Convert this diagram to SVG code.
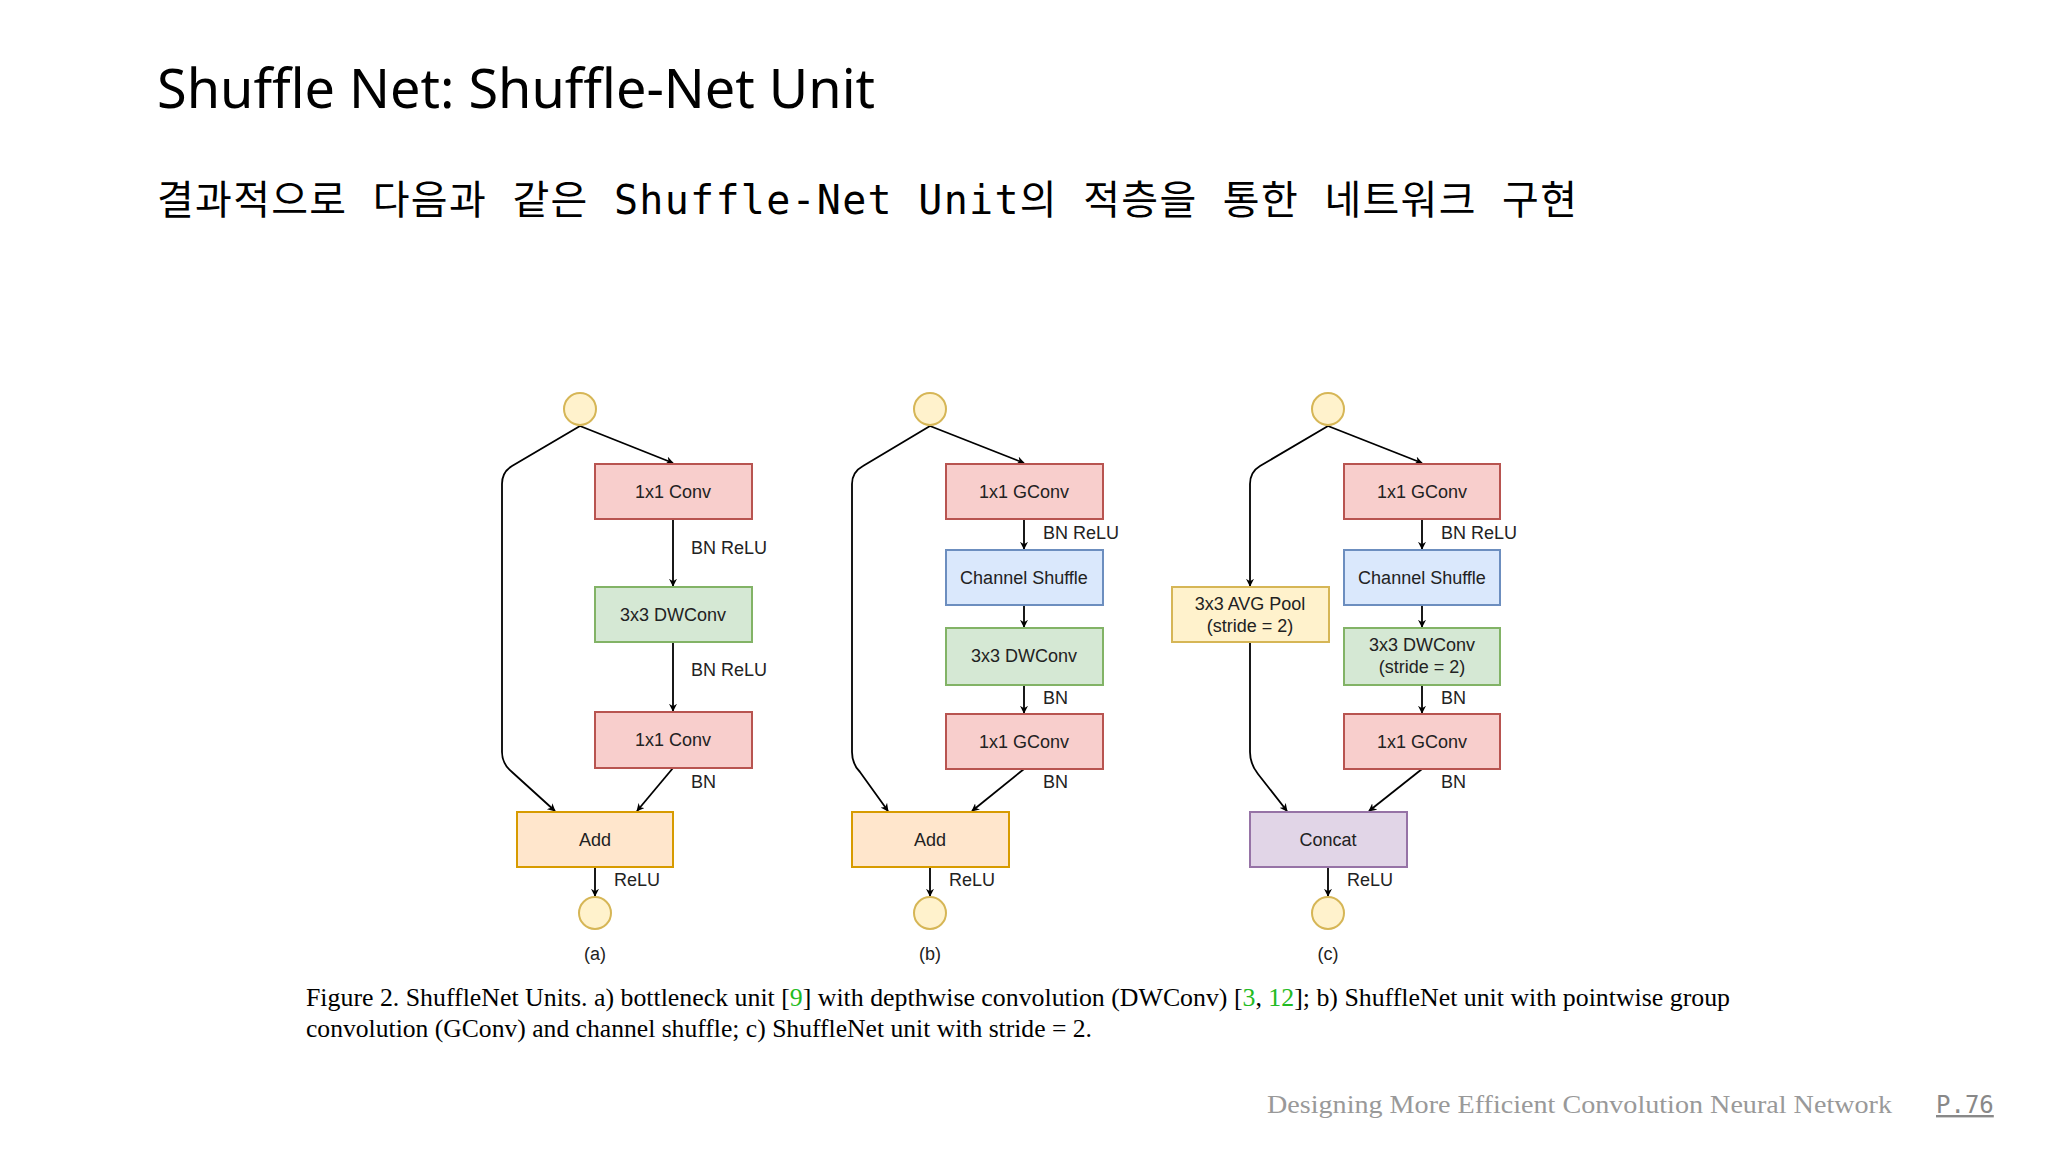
<svg xmlns="http://www.w3.org/2000/svg" width="2048" height="1152" viewBox="0 0 2048 1152">
<defs>
<marker id="ah" viewBox="0 0 10 10" refX="9" refY="5" markerWidth="8" markerHeight="8" markerUnits="userSpaceOnUse" orient="auto"><path d="M0,0 L10,5 L0,10 L3,5 z" fill="#000"/></marker>
<style>
.t{font-family:"Liberation Sans",Arial,sans-serif;font-size:18px;fill:#222;text-anchor:middle;dominant-baseline:central}
.l{font-family:"Liberation Sans",Arial,sans-serif;font-size:18px;fill:#222}
.red{fill:#f8cecc;stroke:#b85450;stroke-width:2}
.grn{fill:#d5e8d4;stroke:#82b366;stroke-width:2}
.blu{fill:#dae8fc;stroke:#6c8ebf;stroke-width:2}
.org{fill:#ffe6cc;stroke:#d79b00;stroke-width:2}
.yel{fill:#fff2cc;stroke:#d6b656;stroke-width:2}
.pur{fill:#e1d5e7;stroke:#9673a6;stroke-width:2}
.c{fill:#fff2cc;stroke:#d6b656;stroke-width:2}
.e{fill:none;stroke:#000;stroke-width:1.8;marker-end:url(#ah)}
</style>
</defs>
<rect width="2048" height="1152" fill="#fff"/>
<text x="157" y="108" font-family="'Noto Sans',sans-serif" font-size="54" fill="#000">Shuffle Net: Shuffle-Net Unit</text>
<text x="157" y="214" font-family="'DejaVu Sans Mono','Noto Sans CJK KR',monospace" font-size="40" fill="#000" textLength="1420">결과적으로 다음과 같은 Shuffle-Net Unit의 적층을 통한 네트워크 구현</text>

<g id="connectors">
<path class="e" d="M580,426 L673,463"/>
<path class="e" d="M580,426 L512,466 Q502,472 502,484 L502,752 Q502,764 512,772 L555,811"/>
<path class="e" d="M673,519 L673,586"/>
<path class="e" d="M673,642 L673,711"/>
<path class="e" d="M673,768 L637,811"/>
<path class="e" d="M595,867 L595,896"/>
<path class="e" d="M930,426 L1024,463"/>
<path class="e" d="M930,426 L863,466 Q852,472 852,484 L852,752 Q852,764 860,772 L888,811"/>
<path class="e" d="M1024,519 L1024,549"/>
<path class="e" d="M1024,605 L1024,627"/>
<path class="e" d="M1024,685 L1024,713"/>
<path class="e" d="M1024,769 L972,811"/>
<path class="e" d="M930,867 L930,896"/>
<path class="e" d="M1328,426 L1422,463"/>
<path class="e" d="M1328,426 L1260,466 Q1250,472 1250,484 L1250,586"/>
<path class="e" d="M1250,642 L1250,752 Q1250,764 1258,774 L1287,811"/>
<path class="e" d="M1422,519 L1422,549"/>
<path class="e" d="M1422,605 L1422,627"/>
<path class="e" d="M1422,685 L1422,713"/>
<path class="e" d="M1422,769 L1369,811"/>
<path class="e" d="M1328,867 L1328,896"/>
</g>
<g id="edge-labels">
<text class="l" x="691" y="554">BN ReLU</text>
<text class="l" x="691" y="676">BN ReLU</text>
<text class="l" x="691" y="788">BN</text>
<text class="l" x="614" y="886">ReLU</text>
<text class="l" x="1043" y="539">BN ReLU</text>
<text class="l" x="1043" y="704">BN</text>
<text class="l" x="1043" y="788">BN</text>
<text class="l" x="949" y="886">ReLU</text>
<text class="l" x="1441" y="539">BN ReLU</text>
<text class="l" x="1441" y="704">BN</text>
<text class="l" x="1441" y="788">BN</text>
<text class="l" x="1347" y="886">ReLU</text>
</g>

<g id="a-in"><circle class="c" cx="580" cy="409" r="16"/></g>
<g id="a-conv1"><rect class="red" x="595" y="464" width="157" height="55"/><text class="t" x="673" y="492">1x1 Conv</text></g>
<g id="a-dw"><rect class="grn" x="595" y="587" width="157" height="55"/><text class="t" x="673" y="615">3x3 DWConv</text></g>
<g id="a-conv2"><rect class="red" x="595" y="712" width="157" height="56"/><text class="t" x="673" y="740">1x1 Conv</text></g>
<g id="a-add"><rect class="org" x="517" y="812" width="156" height="55"/><text class="t" x="595" y="840">Add</text></g>
<g id="a-out"><circle class="c" cx="595" cy="913" r="16"/></g>
<text class="t" x="595" y="954">(a)</text>

<g id="b-in"><circle class="c" cx="930" cy="409" r="16"/></g>
<g id="b-g1"><rect class="red" x="946" y="464" width="157" height="55"/><text class="t" x="1024" y="492">1x1 GConv</text></g>
<g id="b-cs"><rect class="blu" x="946" y="550" width="157" height="55"/><text class="t" x="1024" y="578">Channel Shuffle</text></g>
<g id="b-dw"><rect class="grn" x="946" y="628" width="157" height="57"/><text class="t" x="1024" y="656">3x3 DWConv</text></g>
<g id="b-g2"><rect class="red" x="946" y="714" width="157" height="55"/><text class="t" x="1024" y="742">1x1 GConv</text></g>
<g id="b-add"><rect class="org" x="852" y="812" width="157" height="55"/><text class="t" x="930" y="840">Add</text></g>
<g id="b-out"><circle class="c" cx="930" cy="913" r="16"/></g>
<text class="t" x="930" y="954">(b)</text>

<g id="c-in"><circle class="c" cx="1328" cy="409" r="16"/></g>
<g id="c-pool"><rect class="yel" x="1172" y="587" width="157" height="55"/><text class="t" x="1250" y="604">3x3 AVG Pool</text><text class="t" x="1250" y="626">(stride = 2)</text></g>
<g id="c-g1"><rect class="red" x="1344" y="464" width="156" height="55"/><text class="t" x="1422" y="492">1x1 GConv</text></g>
<g id="c-cs"><rect class="blu" x="1344" y="550" width="156" height="55"/><text class="t" x="1422" y="578">Channel Shuffle</text></g>
<g id="c-dw"><rect class="grn" x="1344" y="628" width="156" height="57"/><text class="t" x="1422" y="645">3x3 DWConv</text><text class="t" x="1422" y="667">(stride = 2)</text></g>
<g id="c-g2"><rect class="red" x="1344" y="714" width="156" height="55"/><text class="t" x="1422" y="742">1x1 GConv</text></g>
<g id="c-cat"><rect class="pur" x="1250" y="812" width="157" height="55"/><text class="t" x="1328" y="840">Concat</text></g>
<g id="c-out"><circle class="c" cx="1328" cy="913" r="16"/></g>
<text class="t" x="1328" y="954">(c)</text>

<g font-family="'Liberation Serif','Times New Roman',serif" font-size="25" fill="#000">
<text x="306" y="1006" textLength="1424" lengthAdjust="spacingAndGlyphs">Figure 2. ShuffleNet Units. a) bottleneck unit [<tspan fill="#22bb22">9</tspan>] with depthwise convolution (DWConv) [<tspan fill="#22bb22">3</tspan>, <tspan fill="#22bb22">12</tspan>]; b) ShuffleNet unit with pointwise group</text>
<text x="306" y="1037" textLength="786" lengthAdjust="spacingAndGlyphs">convolution (GConv) and channel shuffle; c) ShuffleNet unit with stride = 2.</text>
</g>
<text x="1267" y="1113" font-family="'Liberation Serif',serif" font-size="26" fill="#999" textLength="625" lengthAdjust="spacingAndGlyphs">Designing More Efficient Convolution Neural Network</text>
<text x="1936" y="1113" font-family="'DejaVu Sans Mono',monospace" font-size="24" fill="#888" text-decoration="underline">P.76</text>
</svg>
